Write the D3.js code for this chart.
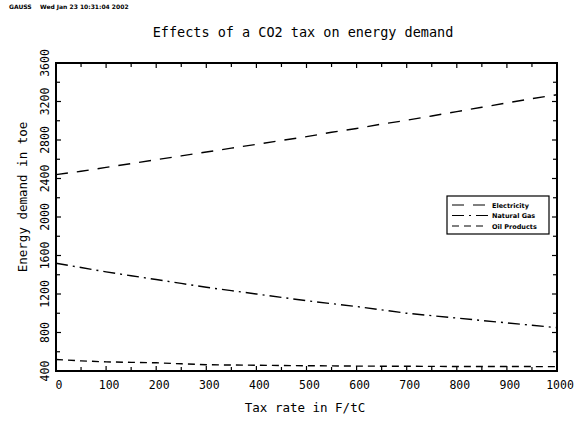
<!DOCTYPE html>
<html>
<head>
<meta charset="utf-8">
<script src="https://cdn.jsdelivr.net/npm/d3@7"></script>
<style>
  body { margin: 0; background: #fff; }
  text { font-family: "DejaVu Sans Mono", monospace; fill: #000; }
</style>
</head>
<body>
<svg width="577" height="421"></svg>
<script>
"use strict";

const tax_rates = [0, 50, 100, 150, 200, 250, 300, 350, 400, 450, 500, 550, 600, 650, 700, 750, 800, 850, 900, 950, 1000];
const electricity = [2440, 2475, 2515, 2555, 2595, 2635, 2675, 2715, 2755, 2795, 2835, 2880, 2920, 2965, 3005, 3050, 3095, 3140, 3185, 3230, 3270];
const natural_gas = [1520, 1475, 1430, 1390, 1350, 1310, 1270, 1235, 1200, 1165, 1130, 1100, 1070, 1035, 1000, 975, 950, 925, 900, 875, 850];
const oil_products = [520, 505, 495, 490, 485, 475, 465, 462, 460, 457, 455, 453, 451, 450, 449, 448, 447, 447, 446, 446, 445];

const x_ticks = [0, 100, 200, 300, 400, 500, 600, 700, 800, 900, 1000];
const y_ticks = [400, 800, 1200, 1600, 2000, 2400, 2800, 3200, 3600];

const series = [
    { name: "Electricity", values: electricity, dash: "12,9" },
    { name: "Natural Gas", values: natural_gas, dash: "12,5,2,5" },
    { name: "Oil Products", values: oil_products, dash: "7,5" }
];

const svg = d3.select("svg");
const plot_left = 56, plot_right = 557, plot_top = 63, plot_bottom = 371;

const x = d3.scaleLinear().domain([0, 1000]).range([plot_left, plot_right]);
const y = d3.scaleLinear().domain([400, 3600]).range([plot_bottom, plot_top]);

// header stamp
svg.append("text")
    .attr("x", 9).attr("y", 9)
    .style("font-family", "'DejaVu Sans', sans-serif")
    .style("font-size", "6px").style("font-weight", "bold")
    .attr("xml:space", "preserve")
    .text("GAUSS    Wed Jan 23 10:31:04 2002");

svg.append("text")
    .attr("x", 303).attr("y", 37)
    .attr("text-anchor", "middle")
    .style("font-size", "13.5px")
    .text("Effects of a CO2 tax on energy demand");

// ticks: major and minor, inward, on all four sides
const minor_x = d3.range(0, 1001, 50);
const minor_y = d3.range(400, 3601, 200);
const tick_g = svg.append("g").attr("stroke", "#000").attr("stroke-width", 1.2);

minor_x.forEach(v => {
    const len = v % 100 === 0 ? 5 : 4;
    tick_g.append("line").attr("x1", x(v)).attr("x2", x(v)).attr("y1", plot_bottom).attr("y2", plot_bottom - len);
    tick_g.append("line").attr("x1", x(v)).attr("x2", x(v)).attr("y1", plot_top).attr("y2", plot_top + len);
});
minor_y.forEach(v => {
    const len = v % 400 === 0 ? 5 : 4;
    tick_g.append("line").attr("y1", y(v)).attr("y2", y(v)).attr("x1", plot_left).attr("x2", plot_left + len);
    tick_g.append("line").attr("y1", y(v)).attr("y2", y(v)).attr("x1", plot_right).attr("x2", plot_right - len);
});

svg.append("rect")
    .attr("x", plot_left).attr("y", plot_top)
    .attr("width", plot_right - plot_left).attr("height", plot_bottom - plot_top)
    .attr("fill", "none").attr("stroke", "#000").attr("stroke-width", 2);

// tick labels
svg.append("g").selectAll("text")
    .data(x_ticks).enter().append("text")
    .attr("x", d => x(d) + 3).attr("y", 389)
    .attr("text-anchor", "middle")
    .style("font-size", "11.5px")
    .text(d => d);

svg.append("g").selectAll("text")
    .data(y_ticks).enter().append("text")
    .attr("transform", d => `translate(49, ${y(d)}) rotate(-90)`)
    .attr("text-anchor", "middle")
    .style("font-size", "11.5px")
    .text(d => d);

svg.append("text")
    .attr("x", 305).attr("y", 412)
    .attr("text-anchor", "middle")
    .style("font-size", "12.5px")
    .text("Tax rate in F/tC");

svg.append("text")
    .attr("transform", "translate(27, 197) rotate(-90)")
    .attr("text-anchor", "middle")
    .style("font-size", "12.5px")
    .text("Energy demand in toe");

// lines
const line = d3.line().x((d, i) => x(tax_rates[i])).y(d => y(d));
series.forEach(s => {
    svg.append("path")
        .datum(s.values)
        .attr("d", line)
        .attr("fill", "none")
        .attr("stroke", "#000")
        .attr("stroke-width", 1.4)
        .attr("stroke-dasharray", s.dash);
});

// legend
const lg = svg.append("g").attr("transform", "translate(447, 196)");
lg.append("rect").attr("width", 102).attr("height", 38)
    .attr("fill", "#fff").attr("stroke", "#000").attr("stroke-width", 1.2);
series.forEach((s, i) => {
    const ly = 9 + i * 10.5;
    lg.append("line").attr("x1", 5).attr("x2", 41).attr("y1", ly).attr("y2", ly)
        .attr("stroke", "#000").attr("stroke-width", 1.2)
        .attr("stroke-dasharray", s.dash);
    lg.append("text").attr("x", 45).attr("y", ly + 2.5)
        .style("font-family", "'DejaVu Sans', sans-serif")
        .style("font-size", "6.5px").style("font-weight", "bold")
        .text(s.name);
});
</script>
</body>
</html>
